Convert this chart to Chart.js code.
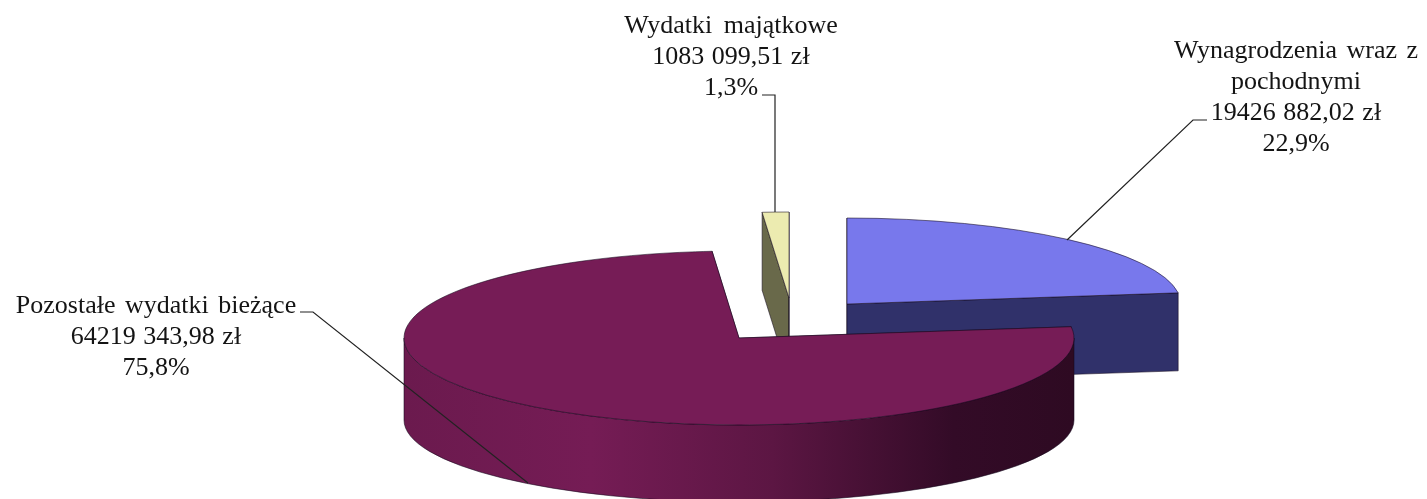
<!DOCTYPE html>
<html lang="pl">
<head>
<meta charset="utf-8">
<title>Wydatki</title>
<script src="https://cdn.jsdelivr.net/npm/chart.js@4"></script>
<style>
    html, body { margin: 0; padding: 0; background: #fff; overflow: hidden; }
    #wrap { position: relative; width: 1427px; height: 499px; }
</style>
</head>
<body>
<div id="wrap"><canvas id="wydatkiChart"></canvas></div>
<script>
// Data
const categories = ['Wynagrodzenia wraz z pochodnymi', 'Pozostałe wydatki bieżące', 'Wydatki majątkowe'];
const categoryLines = [['Wynagrodzenia wraz z', 'pochodnymi'], ['Pozostałe wydatki bieżące'], ['Wydatki majątkowe']];
const amounts = [19426882.02, 64219343.98, 1083099.51];
const amountLabels = ['19426 882,02 zł', '64219 343,98 zł', '1083 099,51 zł'];
const shareLabels = ['22,9%', '75,8%', '1,3%'];

// Colours per slice
const topColors = ['#7878ec', '#761c56', '#ecebb0'];
const wallColors = ['#30316a', '#761c56', '#69694a'];

// Where each slice sits on the page (the 3D look is an ellipse plus a wall)
const placement = [
    { x: 847, y: 304, rx: 334, ry: 86, depth: 78, bottomRy: 86 },
    { x: 739, y: 338, rx: 335, ry: 87, depth: 82, bottomRy: 82 },
    { x: 789, y: 298, rx: 335, ry: 86, depth: 78, bottomRy: 86 }
];
const drawOrder = [0, 2, 1];

// Label blocks and their leader lines
const labelBlocks = [
    { x: 1296, y: 58, leader: [[1207, 120], [1193, 120], [1067, 240]], wordGap: ['3px', '0px'] },
    { x: 156, y: 313, leader: [[300, 312], [313, 312], [528, 483]], wordGap: ['3px'] },
    { x: 731, y: 33, leader: [[762, 95], [775, 95], [775, 212]], wordGap: ['5px'] }
];
const lineHeight = 31;

function rimPoint(p, angle) {
    return [p.x + Math.cos(angle) * p.rx, p.y + Math.sin(angle) * p.ry];
}

function drawCutFace(ctx, p, angle, color) {
    const rim = rimPoint(p, angle);
    ctx.beginPath();
    ctx.moveTo(p.x, p.y);
    ctx.lineTo(rim[0], rim[1]);
    ctx.lineTo(rim[0], rim[1] + p.depth);
    ctx.lineTo(p.x, p.y + p.depth);
    ctx.closePath();
    ctx.fillStyle = color;
    ctx.fill();
    ctx.strokeStyle = 'rgba(20, 10, 30, 0.55)';
    ctx.lineWidth = 1;
    ctx.stroke();
}

function drawRimWall(ctx, p, startAngle, endAngle, color) {
    const from = Math.max(startAngle, 0);
    const to = Math.min(endAngle, Math.PI);
    if (to <= from) return;
    ctx.beginPath();
    ctx.ellipse(p.x, p.y, p.rx, p.ry, 0, from, to);
    ctx.ellipse(p.x, p.y + p.depth, p.rx, p.bottomRy, 0, to, from, true);
    ctx.closePath();
    ctx.fillStyle = color;
    ctx.fill();
    ctx.strokeStyle = 'rgba(20, 10, 30, 0.55)';
    ctx.lineWidth = 1;
    ctx.stroke();
}

const pie3dPlugin = {
    id: 'pie3d',
    beforeDatasetDraw(chart) {
        const ctx = chart.ctx;
        const arcs = chart.getDatasetMeta(0).data;

        drawOrder.forEach(function(i) {
            const arc = arcs[i];
            const p = placement[i];
            let wallFill = wallColors[i];
            if (i === 1) {
                // the big slice has a shaded wall, light on the left and dark on the right
                wallFill = ctx.createLinearGradient(p.x - p.rx, 0, p.x + p.rx, 0);
                wallFill.addColorStop(0, '#6b1a4e');
                wallFill.addColorStop(0.28, '#751c55');
                wallFill.addColorStop(0.55, '#5c1643');
                wallFill.addColorStop(0.82, '#330b27');
                wallFill.addColorStop(1, '#2e0a22');
            }
            drawCutFace(ctx, p, arc.startAngle, wallColors[i]);
            drawCutFace(ctx, p, arc.endAngle, wallColors[i]);
            drawRimWall(ctx, p, arc.startAngle, arc.endAngle, wallFill);

            // top of the slice is the library's own arc, squashed into place
            ctx.save();
            ctx.translate(p.x, p.y);
            ctx.scale(p.rx / arc.outerRadius, p.ry / arc.outerRadius);
            ctx.translate(-arc.x, -arc.y);
            arc.draw(ctx);
            ctx.restore();

            ctx.beginPath();
            ctx.moveTo(p.x, p.y);
            ctx.ellipse(p.x, p.y, p.rx, p.ry, 0, arc.startAngle, arc.endAngle);
            ctx.closePath();
            ctx.strokeStyle = 'rgba(20, 10, 30, 0.55)';
            ctx.lineWidth = 1;
            ctx.stroke();
        });
        return false;
    },
    afterDraw(chart) {
        const ctx = chart.ctx;
        ctx.save();
        labelBlocks.forEach(function(block, i) {
            ctx.beginPath();
            block.leader.forEach(function(pt, n) {
                if (n === 0) ctx.moveTo(pt[0], pt[1]);
                else ctx.lineTo(pt[0], pt[1]);
            });
            ctx.strokeStyle = '#222';
            ctx.lineWidth = 1.2;
            ctx.stroke();

            const lines = categoryLines[i].concat([amountLabels[i], shareLabels[i]]);
            ctx.font = "26px 'Liberation Serif', 'Times New Roman', serif";
            ctx.fillStyle = '#141414';
            ctx.textAlign = 'center';
            ctx.textBaseline = 'alphabetic';
            lines.forEach(function(line, n) {
                ctx.wordSpacing = block.wordGap[n] || '1px';
                ctx.fillText(line, block.x, block.y + n * lineHeight);
            });
        });
        ctx.restore();
    }
};

document.addEventListener('DOMContentLoaded', function() {
    new Chart(document.getElementById('wydatkiChart'), {
        type: 'pie',
        data: {
            labels: categories,
            datasets: [{
                data: amounts,
                backgroundColor: topColors,
                borderWidth: 0
            }]
        },
        options: {
            responsive: true,
            maintainAspectRatio: false,
            animation: false,
            plugins: {
                legend: { display: false },
                tooltip: { enabled: false }
            }
        },
        plugins: [pie3dPlugin]
    });
});
</script>
</body>
</html>
